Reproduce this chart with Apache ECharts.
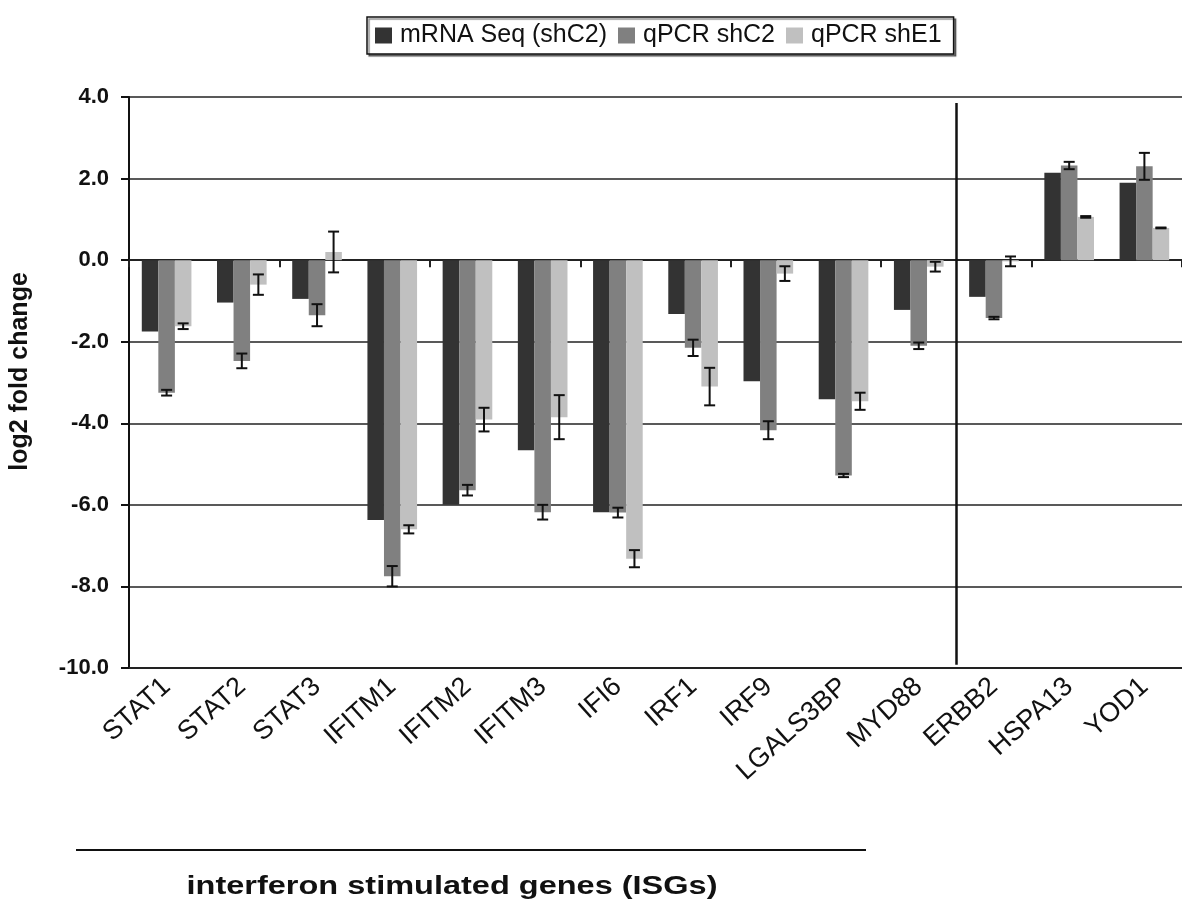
<!DOCTYPE html>
<html>
<head>
<meta charset="utf-8">
<title>log2 fold change</title>
<script src="https://cdn.jsdelivr.net/npm/echarts@6/dist/echarts.min.js"></script>
<style>
  html, body { margin: 0; padding: 0; background: #ffffff; }
  #chart { width: 1182px; height: 904px; }
</style>
</head>
<body>
<div id="chart"></div>
<script>
// Genes on the x axis
const categories = ['STAT1', 'STAT2', 'STAT3', 'IFITM1', 'IFITM2', 'IFITM3', 'IFI6',
  'IRF1', 'IRF9', 'LGALS3BP', 'MYD88', 'ERBB2', 'HSPA13', 'YOD1'];

// log2 fold change per gene
const mrnaSeq     = [-1.75, -1.04, -0.95, -6.37, -6.00, -4.66, -6.18, -1.32, -2.97, -3.41, -1.22, -0.90, 2.14, 1.90];
const qpcrShC2    = [-3.25, -2.47, -1.35, -7.75, -5.64, -6.18, -6.19, -2.15, -4.17, -5.28, -2.10, -1.42, 2.32, 2.30];
const qpcrShC2Err = [0.07, 0.18, 0.27, 0.25, 0.13, 0.18, 0.12, 0.20, 0.22, 0.04, 0.08, 0.03, 0.09, 0.33];
const qpcrShE1    = [-1.62, -0.60, 0.20, -6.60, -3.91, -3.85, -7.32, -3.10, -0.33, -3.46, -0.16, -0.03, 1.06, 0.79];
const qpcrShE1Err = [0.07, 0.25, 0.50, 0.10, 0.29, 0.54, 0.21, 0.46, 0.18, 0.21, 0.12, 0.12, 0.02, 0.01];

const seriesNames = ['mRNA Seq (shC2)', 'qPCR shC2', 'qPCR shE1'];
const seriesColors = ['#333333', '#808080', '#c0c0c0'];

// y axis range
const yMin = -10, yMax = 4, yStep = 2;
// first non-ISG gene: a divider is drawn on its left boundary
const dividerIndex = categories.indexOf('ERBB2');

const FONT = '"Liberation Sans", Arial, sans-serif';
const BAR_CATEGORY_GAP = 0.34;

// error bar records: [category index, value, error, bar slot within the group]
const errorData = [];
categories.forEach((c, i) => {
  errorData.push([i, qpcrShC2[i], qpcrShC2Err[i], 1]);
  errorData.push([i, qpcrShE1[i], qpcrShE1Err[i], 2]);
});

function renderErrorBar(params, api) {
  const ci = api.value(0), v = api.value(1), e = api.value(2), slot = api.value(3);
  const band = api.size([1, 0])[0];
  const bw = band * (1 - BAR_CATEGORY_GAP) / 3;
  const x = api.coord([ci, v])[0] + (slot - 1) * bw;
  const yTop = api.coord([ci, v + e])[1];
  const yBot = api.coord([ci, v - e])[1];
  const half = 5.5;
  const style = { stroke: '#111111', lineWidth: 2 };
  return {
    type: 'group',
    children: [
      { type: 'line', shape: { x1: x, y1: yTop, x2: x, y2: yBot }, style },
      { type: 'line', shape: { x1: x - half, y1: yTop, x2: x + half, y2: yTop }, style },
      { type: 'line', shape: { x1: x - half, y1: yBot, x2: x + half, y2: yBot }, style }
    ]
  };
}

const chart = echarts.init(document.getElementById('chart'), null, { renderer: 'canvas' });

const barSeries = [mrnaSeq, qpcrShC2, qpcrShE1].map((vals, k) => ({
  name: seriesNames[k],
  type: 'bar',
  xAxisIndex: 0,
  yAxisIndex: 0,
  data: vals,
  barGap: '0%',
  barCategoryGap: (BAR_CATEGORY_GAP * 100) + '%',
  itemStyle: { color: seriesColors[k] },
  z: 3
}));

chart.setOption({
  animation: false,
  backgroundColor: '#ffffff',
  textStyle: { fontFamily: FONT },
  legend: {
    data: seriesNames,
    left: 367,
    top: 17,
    icon: 'rect',
    itemWidth: 17,
    itemHeight: 16,
    itemGap: 11,
    padding: [6, 12, 6, 8],
    borderColor: '#111111',
    borderWidth: 1.5,
    shadowColor: 'rgba(0,0,0,0.45)',
    shadowOffsetX: 2,
    shadowOffsetY: 2,
    shadowBlur: 1,
    backgroundColor: '#ffffff',
    textStyle: { fontFamily: FONT, fontSize: 25, color: '#111111', padding: [0, 0, 0, 3] }
  },
  grid: { left: 128, right: -9, top: 97, bottom: 236, containLabel: false },
  xAxis: [
    {
      type: 'category',
      data: categories,
      position: 'bottom',
      axisLine: { show: true, onZero: false, lineStyle: { color: '#222222', width: 2 } },
      axisTick: { show: false },
      axisLabel: {
        interval: 0,
        rotate: 42,
        margin: 15,
        fontFamily: FONT,
        fontSize: 27,
        color: '#111111'
      },
      splitLine: { show: false }
    },
    {
      type: 'category',
      data: categories,
      position: 'top',
      axisLine: { show: true, onZero: true, lineStyle: { color: '#222222', width: 2 } },
      axisTick: { show: true, inside: true, length: 7, lineStyle: { color: '#222222', width: 2 } },
      axisLabel: { show: false },
      splitLine: { show: false }
    },
    {
      type: 'value',
      min: 0,
      max: categories.length,
      show: false
    }
  ],
  yAxis: {
    type: 'value',
    min: yMin,
    max: yMax,
    interval: yStep,
    name: 'log2 fold change',
    nameLocation: 'middle',
    nameGap: 96,
    nameTextStyle: { fontFamily: FONT, fontSize: 25, fontWeight: 'bold', color: '#111111', padding: [0, 0, 0, 22] },
    axisLine: { show: true, lineStyle: { color: '#111111', width: 2 } },
    axisTick: { show: true, length: 8, lineStyle: { color: '#111111', width: 2 } },
    axisLabel: {
      margin: 20,
      fontFamily: FONT,
      fontSize: 22,
      fontWeight: 'bold',
      color: '#111111',
      formatter: v => v.toFixed(1)
    },
    splitLine: { show: true, lineStyle: { color: '#222222', width: 1.6 } }
  },
  series: [
    ...barSeries,
    {
      name: 'error',
      type: 'custom',
      xAxisIndex: 0,
      yAxisIndex: 0,
      renderItem: renderErrorBar,
      encode: { x: 0, y: 1 },
      data: errorData,
      z: 5,
      silent: true
    },
    {
      name: 'divider',
      type: 'line',
      xAxisIndex: 2,
      yAxisIndex: 0,
      data: [],
      silent: true,
      markLine: {
        silent: true,
        symbol: ['none', 'none'],
        label: { show: false },
        lineStyle: { color: '#111111', width: 2.5, type: 'solid' },
        data: [[
          { coord: [dividerIndex, 3.85] },
          { coord: [dividerIndex, -9.92] }
        ]]
      }
    }
  ],
  graphic: [
    {
      type: 'line',
      shape: { x1: 76, y1: 850, x2: 866, y2: 850 },
      style: { stroke: '#111111', lineWidth: 2 }
    },
    {
      type: 'text',
      x: 452,
      y: 887,
      scaleX: 1.25,
      style: {
        text: 'interferon stimulated genes (ISGs)',
        fontFamily: FONT,
        fontSize: 26,
        fontWeight: 'bold',
        fill: '#111111',
        textAlign: 'center',
        textVerticalAlign: 'middle'
      }
    }
  ]
});
</script>
</body>
</html>
